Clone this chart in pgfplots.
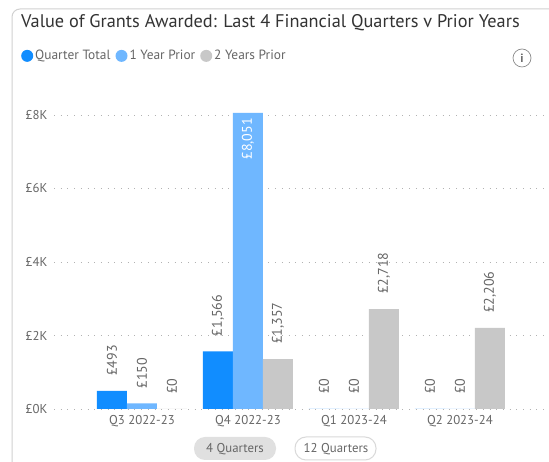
\documentclass[border=0pt]{standalone}
\usepackage{fontspec}
\setmainfont{PT Sans}
\usepackage{pgfplots}
\pgfplotsset{compat=1.18}
\definecolor{qtotal}{HTML}{118DFF}
\definecolor{oneyear}{HTML}{6FB7FF}
\definecolor{twoyear}{HTML}{C8C8C8}
\definecolor{txt}{HTML}{666666}
\definecolor{ttl}{HTML}{333333}
\newcommand{\lblfont}{\fontsize{13.4}{15}\selectfont}
\newcommand{\tickfont}{\fontsize{12.8}{15}\selectfont}
\newcommand{\datafont}{\fontsize{14}{16}\selectfont}
\pgfplotsset{
  circ/.style={legend image code/.code={\fill[#1] (0pt,0pt) circle (6pt);}},
  lab/.style={nodes near coords,point meta=explicit symbolic,
    every node near coord/.append style={rotate=90,anchor=west,inner sep=0pt,xshift=15pt,yshift=0pt,
      text=txt,font=\datafont}},
}
\begin{document}
\begin{tikzpicture}[x=1pt,y=1pt]
\path[use as bounding box] (0,0) rectangle (549,462);
\fill[white] (0,0) rectangle (549,462);
\draw[draw=black!18,line width=1pt,rounded corners=8pt] (12,-20) rectangle (600,453);
\node[anchor=west,inner sep=0pt,text=ttl,font=\fontsize{18.3}{20}\selectfont] at (21,439) {Value of Grants Awarded: Last 4 Financial Quarters v Prior Years};
\draw[black!45,line width=.7pt] (522,404) circle (9);
\node[text=txt,font=\bfseries\fontsize{12}{12}\selectfont] at (522,404) {i};
\fill[black!12,rounded corners=11pt] (194,2) rectangle (276,25);
\draw[black!15,line width=1pt,rounded corners=11pt] (295,2) rectangle (376,25);
\node[text=txt,font=\tickfont] at (235,13) {4 Quarters};
\node[text=txt,font=\tickfont] at (336,13) {12 Quarters};
\begin{axis}[
  at={(54pt,53pt)},anchor=south west,
  scale only axis,width=495pt,height=296pt,
  xmin=-0.83,xmax=3.84,ymin=0,ymax=8051,
  clip=false,
  ybar=0pt,bar width=30pt,
  axis line style={draw=none},major tick length=0pt,
  xtick={0,1,2,3},xticklabels={Q3 2022-23,Q4 2022-23,Q1 2023-24,Q2 2023-24},
  ytick={0,2000,4000,6000,8000},yticklabels={£0K,£2K,£4K,£6K,£8K},
  ymajorgrids,
  major grid style={draw=black!30,line width=.7pt,dash pattern=on .7pt off 6pt},
  tick label style={text=txt,font=\tickfont},
  xticklabel style={yshift=-3pt},
  yticklabel style={xshift=-3pt},
  legend style={draw=none,fill=none,at={(-0.0667,1.193)},anchor=west,legend columns=3,
    font=\lblfont,text=txt,inner sep=0pt,
    /tikz/every even column/.style={column sep=3pt}},
  legend cell align=left,
]
\addplot[fill=qtotal,draw=none,bar shift=-30pt,circ=qtotal,lab] coordinates
  {(0,493) [£493] (1,1566) [£1,566] (2,0) [£0] (3,0) [£0]};
\addlegendentry{Quarter Total}
\addplot[fill=oneyear,draw=none,bar shift=0pt,circ=oneyear,lab] coordinates
  {(0,150) [£150] (1,8051) [] (2,0) [£0] (3,0) [£0]};
\addlegendentry{1 Year Prior}
\addplot[fill=twoyear,draw=none,bar shift=30pt,circ=twoyear,lab] coordinates
  {(0,0) [£0] (1,1357) [£1,357] (2,2718) [£2,718] (3,2206) [£2,206]};
\addlegendentry{2 Years Prior}
% label that sits inside the tall bar
\addplot[forget plot,fill=none,draw=none,bar shift=0pt,nodes near coords,point meta=explicit symbolic,
  every node near coord/.append style={rotate=90,anchor=east,inner sep=0pt,xshift=-5pt,yshift=0pt,
    text=white,font=\datafont}] coordinates {(1,8051) [£8,051]};
\end{axis}
\end{tikzpicture}
\end{document}
